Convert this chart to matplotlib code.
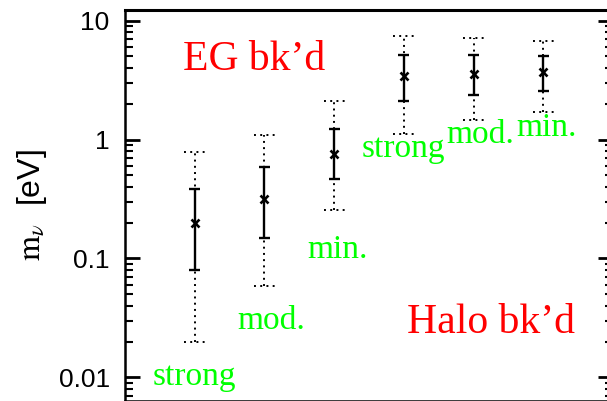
import matplotlib
matplotlib.use('Agg')
import matplotlib.pyplot as plt
import numpy as np

# one point per background model: EG (strong, mod., min.) then Halo (strong, mod., min.)
positions = [1, 2, 3, 4, 5, 6]
central = [0.20, 0.316, 0.755, 3.42, 3.56, 3.70]
inner_lo = [0.080, 0.148, 0.466, 2.11, 2.37, 2.56]
inner_hi = [0.384, 0.59, 1.22, 5.14, 5.14, 5.04]
outer_lo = [0.020, 0.059, 0.255, 1.11, 1.46, 1.71]
outer_hi = [0.79, 1.09, 2.11, 7.43, 7.18, 6.78]
strengths = ['strong', 'mod.', 'min.', 'strong', 'mod.', 'min.']

# where the green labels sit (data coords)
label_x = [0.40, 1.61, 2.61, 3.39, 4.61, 5.61]
label_y = [0.0086, 0.0255, 0.1007, 0.71, 0.935, 1.07]

plt.rcParams['font.family'] = 'Liberation Sans'
plt.rcParams['mathtext.fontset'] = 'stix'

fig = plt.figure(figsize=(6.07, 4.01), dpi=100)
ax = fig.add_axes([125 / 607, 0.5 / 401, 488 / 607, 390.5 / 401])

ax.set_yscale('log')
ax.set_xlim(0, 7)
ax.set_ylim(0.00638, 12.3)

x = np.array(positions)
# dotted outer range
ax.vlines(x, outer_lo, outer_hi, color='black', lw=1.4, linestyles=[(0, (1, 2.2))])
for lim in (outer_lo, outer_hi):
    ax.hlines(lim, x - 0.15, x + 0.15, color='black', lw=1.4, linestyles=[(0, (1, 2.2))])
# solid inner range
ax.vlines(x, inner_lo, inner_hi, color='black', lw=1.7)
for lim in (inner_lo, inner_hi):
    ax.hlines(lim, x - 0.08, x + 0.08, color='black', lw=1.7)
ax.plot(x, central, 'x', color='black', ms=6, mew=1.9)

for name, lx, ly in zip(strengths, label_x, label_y):
    ax.text(lx, ly, name, color='#00ff00', fontsize=24, family='Liberation Serif',
            ha='left', va='baseline')

ax.text(0.119, 0.846, "EG bk\u2019d", color='red', fontsize=30, family='Liberation Serif',
        transform=ax.transAxes, ha='left', va='baseline')
ax.text(0.578, 0.173, "Halo bk\u2019d", color='red', fontsize=30, family='Liberation Serif',
        transform=ax.transAxes, ha='left', va='baseline')

ax.set_yticks([0.01, 0.1, 1, 10])
ax.set_yticklabels(['0.01', '0.1', '1', '10'])
ax.tick_params(axis='y', which='both', direction='in', left=True, right=True,
               labelsize=19, pad=11)
ax.tick_params(axis='y', which='major', length=11, width=2)
ax.tick_params(axis='y', which='minor', length=6, width=1.5)
ax.tick_params(axis='x', which='both', bottom=False, top=False, labelbottom=False)

for side in ['left', 'right', 'bottom']:
    ax.spines[side].set_linewidth(1.8)
ax.spines['top'].set_linewidth(2.2)

ax.set_ylabel(r'$\mathrm{m}_\nu$  [eV]', fontsize=23, va='center')
ax.yaxis.set_label_coords(-0.19, 0.5)

fig.savefig('out.png', dpi=100)
